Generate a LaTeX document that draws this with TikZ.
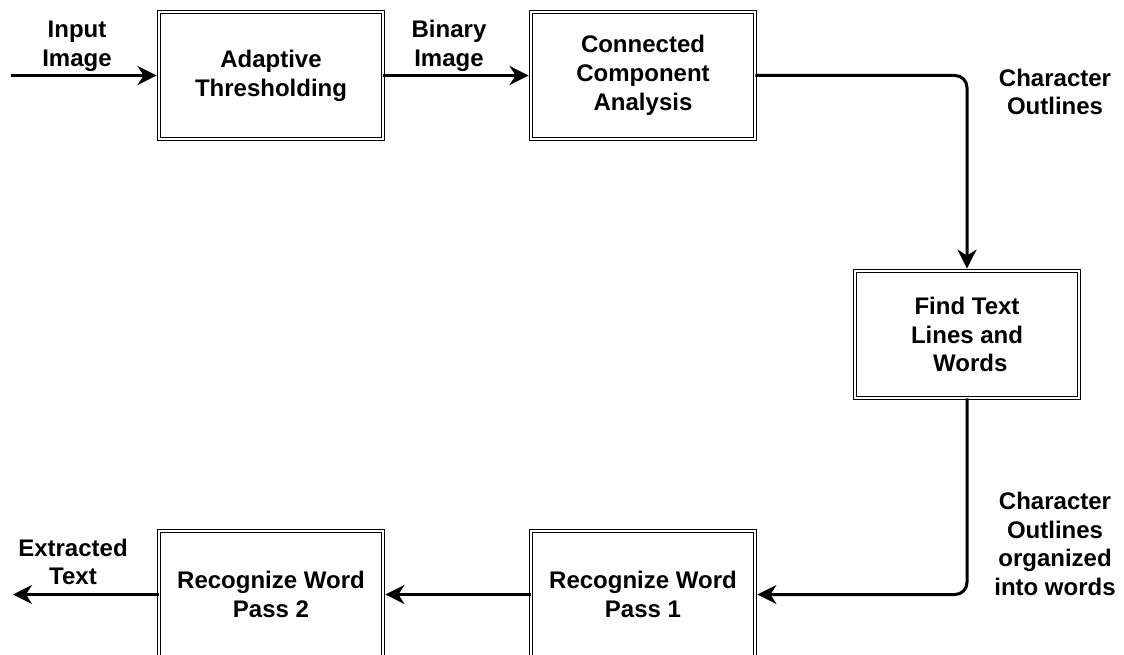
\documentclass[tikz,border=0pt]{standalone}
\usepackage{fontspec}
\setmainfont{Liberation Sans}
\usetikzlibrary{arrows.meta}
\begin{document}
\begin{tikzpicture}[x=1pt,y=-1pt,
  stage/.style={draw=black, double=white, line width=1.2pt, double distance=2pt,
    minimum width=223.6pt, minimum height=126.6pt, inner sep=0pt,
    align=center, font=\bfseries\fontsize{24}{28.8}\selectfont},
  lbl/.style={align=center, inner sep=0pt, font=\bfseries\fontsize{24}{28.8}\selectfont},
  flow/.style={line width=3pt, -{Stealth[length=19pt,width=19pt,inset=6pt]},
    rounded corners=12pt, shorten >=2pt}
]
\useasboundingbox (0,0) rectangle (1124,655);
\clip (0,0) rectangle (1124,655);

% processing stages
\node[stage] (thr) at (271,75.5) {Adaptive\\Thresholding};
\node[stage] (cca) at (643,75.5) {Connected\\Component\\Analysis};
\node[stage] (find) at (967,334.5) {Find Text\\Lines and\\~Words};
\node[stage] (rw1) at (643,594.5) {Recognize Word\\Pass 1};
\node[stage] (rw2) at (271,594.5) {Recognize Word\\Pass 2};

% free ends of the pipeline
\coordinate (src) at (11,75.5);
\coordinate (dst) at (11,594.5);

% connectors
\draw[flow] (src) -- (thr.west);
\draw[flow] (thr.east) -- (cca.west);
\draw[flow] (cca.east) -| (find.north);
\draw[flow] (find.south) |- (rw1.east);
\draw[flow] (rw1.west) -- (rw2.east);
\draw[flow] (rw2.west) -- (dst);

% data labels
\node[lbl] (l1) at (77,46) {Input\\Image};
\node[lbl] (l2) at (449,46) {Binary\\Image};
\node[lbl] (l3) at (1055,92) {Character\\Outlines};
\node[lbl] (l4) at (1055,544) {Character\\Outlines\\organized\\into words};
\node[lbl] (l5) at (73,562) {Extracted\\Text};
\end{tikzpicture}
\end{document}
